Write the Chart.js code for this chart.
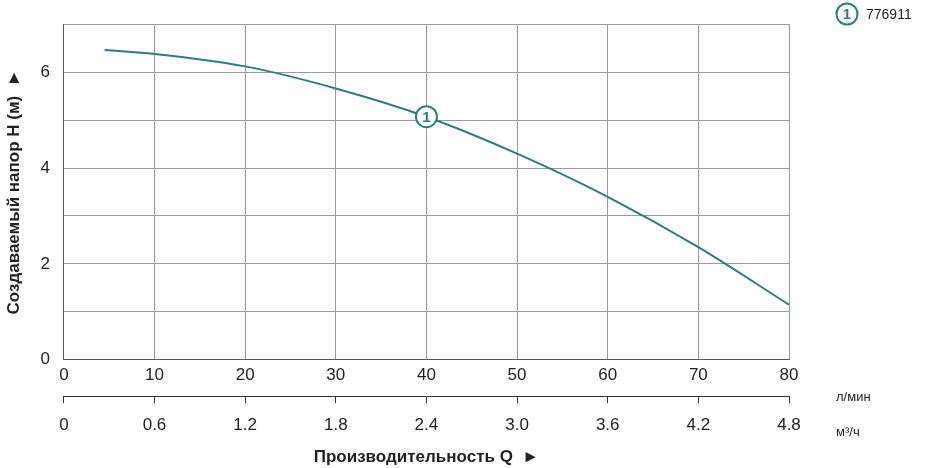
<!DOCTYPE html>
<html><head><meta charset="utf-8">
<script src="https://cdn.jsdelivr.net/npm/chart.js@4"></script>
<style>html,body{margin:0;padding:0;background:#fff}#w{width:928px;height:468px}</style>
</head><body><div id="w"><canvas id="c"></canvas></div>
<script>
const flowLpm = [4.5, 10, 20, 30, 40, 50, 60, 70, 80];
const headM = [6.46, 6.38, 6.12, 5.66, 5.07, 4.30, 3.40, 2.35, 1.15];
const ticksLpm = [0,10,20,30,40,50,60,70,80];
const ticksM3h = [0,0.6,1.2,1.8,2.4,3.0,3.6,4.2,4.8];
const seriesName = '776911';
const markerQ = 40, markerH = 5.07;
const teal = '#2b7d86';
const font = 'Arial, "Liberation Sans", sans-serif';

const deco = {
  id:'deco',
  afterDraw(ch){
    const c = ch.ctx, x = ch.scales.x, y = ch.scales.y;
    const badge = (cx, cy) => {
      c.beginPath(); c.arc(cx, cy, 10.5, 0, Math.PI*2);
      c.fillStyle='#fff'; c.fill(); c.lineWidth=2; c.strokeStyle=teal; c.stroke();
      c.fillStyle=teal; c.font='bold 15px '+font; c.textAlign='center'; c.textBaseline='middle';
      c.fillText('1', cx, cy+1);
    };
    badge(x.getPixelForValue(markerQ), y.getPixelForValue(markerH));
    badge(847, 14);
    c.fillStyle='#222'; c.font='14px '+font; c.textAlign='left'; c.textBaseline='middle';
    c.fillText(seriesName, 866, 15);
    c.font='13px '+font;
    c.fillText('л/мин', 836, 397);
    c.fillText('м³/ч', 836, 432);
  }
};

new Chart(document.getElementById('c'), {
  type:'line',
  data:{datasets:[{data:flowLpm.map((q,i)=>({x:q,y:headM[i]})), borderColor:teal, borderWidth:2, pointRadius:0, tension:0.4, cubicInterpolationMode:'monotone'}]},
  options:{
    responsive:true, maintainAspectRatio:false, animation:false,
    layout:{padding:{right:139, top:-19, left:4, bottom:0}},
    plugins:{legend:{display:false}, tooltip:{enabled:false}},
    scales:{
      x:{type:'linear', min:0, max:80, position:'bottom',
        afterBuildTicks:s=>{s.ticks=ticksLpm.map(v=>({value:v}));},
        afterFit:s=>{s.height+=6;},
        grid:{color:'#9a9a9a', drawTicks:false}, border:{color:'#555'},
        ticks:{color:'#222', font:{family:font,size:17}, padding:5}},
      x2:{type:'linear', min:0, max:4.8, position:'bottom',
        afterBuildTicks:s=>{s.ticks=ticksM3h.map(v=>({value:v}));},
        grid:{drawOnChartArea:false, tickLength:7, color:'#333'}, border:{color:'#333'},
        ticks:{color:'#222', font:{family:font,size:17}, padding:12, callback:v=>v===0?'0':v.toFixed(1)},
        title:{display:true, text:'Производительность Q  ►', color:'#222', font:{family:font,size:17,weight:'bold'}, padding:{top:0,bottom:0}}},
      y:{min:0, max:7,
        afterBuildTicks:s=>{s.ticks=[0,1,2,3,4,5,6,7].map(v=>({value:v}));},
        grid:{color:'#9a9a9a', drawTicks:false}, border:{color:'#555'},
        ticks:{color:'#222', font:{family:font,size:17}, padding:14, callback:v=>(v%2===0&&v<7)?String(v):''},
        title:{display:true, text:'Создаваемый напор H (м)  ►', color:'#222', font:{family:font,size:17,weight:'bold'}, padding:{top:0,bottom:2}}}
    }
  },
  plugins:[deco]
});
</script></body></html>
